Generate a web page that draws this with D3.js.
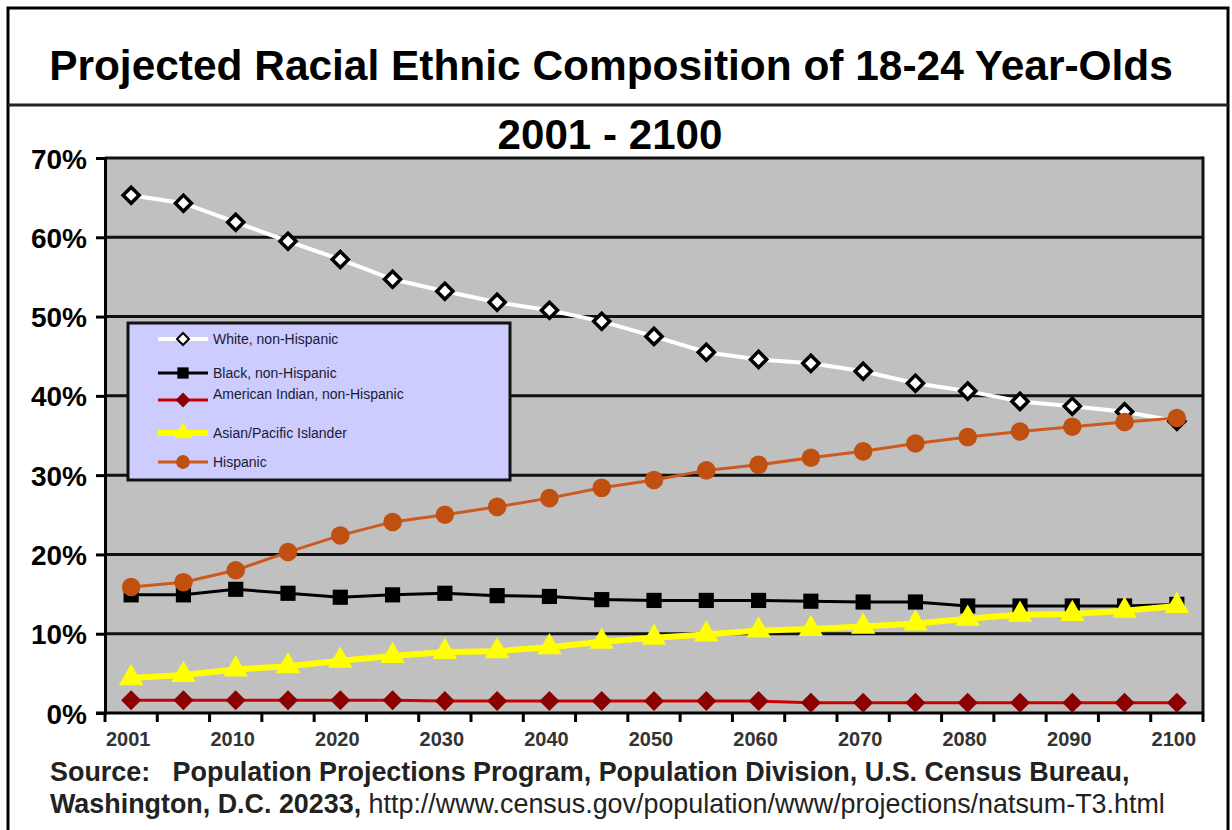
<!DOCTYPE html>
<html>
<head>
<meta charset="utf-8">
<script src="https://cdn.jsdelivr.net/npm/d3@7"></script>
<style>
  body { margin: 0; background: #fff; }
  svg { display: block; font-family: Arial, "Liberation Sans", sans-serif; }
</style>
</head>
<body>
<svg id="chart" width="1232" height="830"></svg>
<script>
// Data
const years = ['2001','2005','2010','2015','2020','2025','2030','2035','2040','2045','2050',
               '2055','2060','2065','2070','2075','2080','2085','2090','2095','2100'];
const xTickLabels = ['2001','2010','2020','2030','2040','2050','2060','2070','2080','2090','2100'];
const yTicks = [0, 10, 20, 30, 40, 50, 60, 70];

const white    = [65.3, 64.3, 61.9, 59.5, 57.2, 54.7, 53.2, 51.8, 50.8, 49.4, 47.5,
                  45.5, 44.6, 44.1, 43.1, 41.6, 40.6, 39.3, 38.7, 38.0, 36.8];
const black    = [14.9, 14.9, 15.6, 15.1, 14.6, 14.9, 15.1, 14.8, 14.7, 14.3, 14.2,
                  14.2, 14.2, 14.1, 14.0, 14.0, 13.5, 13.5, 13.5, 13.5, 13.7];
const amIndian = [1.6, 1.6, 1.6, 1.6, 1.6, 1.6, 1.5, 1.5, 1.5, 1.5, 1.5,
                  1.5, 1.5, 1.3, 1.3, 1.3, 1.3, 1.3, 1.3, 1.3, 1.3];
const asian    = [4.4, 4.8, 5.5, 5.9, 6.6, 7.2, 7.7, 7.8, 8.3, 9.0, 9.5,
                  9.9, 10.4, 10.6, 10.9, 11.3, 11.9, 12.4, 12.5, 12.9, 13.5];
const hispanic = [15.9, 16.5, 18.0, 20.3, 22.4, 24.1, 25.0, 26.0, 27.1, 28.4, 29.4,
                  30.6, 31.3, 32.2, 33.0, 34.0, 34.8, 35.5, 36.1, 36.7, 37.2];

const seriesNames = ['White, non-Hispanic', 'Black, non-Hispanic', 'American Indian, non-Hispanic',
                     'Asian/Pacific Islander', 'Hispanic'];

const svg = d3.select('#chart');

// outer frame and title box
svg.append('rect').attr('x', 8).attr('y', 8).attr('width', 1220).attr('height', 840)
  .attr('fill', '#fff').attr('stroke', '#000').attr('stroke-width', 3);
svg.append('line').attr('x1', 8).attr('x2', 1228).attr('y1', 105).attr('y2', 105)
  .attr('stroke', '#222').attr('stroke-width', 3);

// fit a text element to a given width
function fitWidth(sel, target) {
  const w = sel.node().getComputedTextLength();
  const fs = parseFloat(sel.attr('font-size'));
  sel.attr('font-size', fs * target / w);
}

const title = svg.append('text').attr('x', 611).attr('y', 80).attr('text-anchor', 'middle')
  .attr('font-size', 38).attr('font-weight', 'bold').attr('fill', '#000')
  .text('Projected Racial Ethnic Composition of 18-24 Year-Olds');
fitWidth(title, 1124);

const subtitle = svg.append('text').attr('x', 610).attr('y', 149).attr('text-anchor', 'middle')
  .attr('font-size', 36).attr('font-weight', 'bold').attr('fill', '#000')
  .text('2001 - 2100');
fitWidth(subtitle, 225);

// plot area
const plotLeft = 105, plotRight = 1203, plotTop = 158, plotBottom = 713;

const x = d3.scaleBand().domain(years).range([plotLeft, plotRight]);
const y = d3.scaleLinear().domain([0, 70]).range([plotBottom, plotTop]);
const cx = d => x(d) + x.bandwidth() / 2;

svg.append('rect').attr('x', plotLeft).attr('y', plotTop)
  .attr('width', plotRight - plotLeft).attr('height', plotBottom - plotTop)
  .attr('fill', '#c0c0c0');

// gridlines
svg.append('g').selectAll('line').data(yTicks.filter(t => t > 0)).join('line')
  .attr('x1', plotLeft).attr('x2', plotRight).attr('y1', d => y(d)).attr('y2', d => y(d))
  .attr('stroke', '#111').attr('stroke-width', 3);

// right border
svg.append('line').attr('x1', plotRight).attr('x2', plotRight).attr('y1', plotTop - 1.5).attr('y2', plotBottom)
  .attr('stroke', '#111').attr('stroke-width', 3);

// y axis
const yAxis = svg.append('g').attr('transform', `translate(${plotLeft},0)`)
  .call(d3.axisLeft(y).tickValues(yTicks).tickFormat(d => d + '%').tickSize(9).tickPadding(9));
yAxis.select('.domain').attr('stroke', '#000').attr('stroke-width', 3);
yAxis.selectAll('.tick line').attr('stroke', '#000').attr('stroke-width', 3);
yAxis.selectAll('.tick text').attr('font-size', 28).attr('font-weight', 'bold').attr('fill', '#000')
  .attr('font-family', 'Arial, "Liberation Sans", sans-serif').attr('dy', '0.36em');

// x axis: line, ticks at category boundaries, labels every other category
svg.append('line').attr('x1', plotLeft - 9).attr('x2', plotRight).attr('y1', plotBottom).attr('y2', plotBottom)
  .attr('stroke', '#000').attr('stroke-width', 3);
const bounds = d3.range(years.length + 1).map(i => plotLeft + i * x.bandwidth());
svg.append('g').selectAll('line').data(bounds).join('line')
  .attr('x1', d => d).attr('x2', d => d).attr('y1', plotBottom).attr('y2', plotBottom + 9)
  .attr('stroke', '#000').attr('stroke-width', 3);

const xAxis = svg.append('g').attr('transform', `translate(0,${plotBottom})`)
  .call(d3.axisBottom(x).tickValues(xTickLabels).tickSize(0).tickPadding(19));
xAxis.select('.domain').remove();
xAxis.selectAll('.tick text').attr('font-size', 20).attr('font-weight', 'bold').attr('fill', '#333')
  .attr('font-family', 'Arial, "Liberation Sans", sans-serif').attr('dx', -3);

// series
const series = [
  { name: seriesNames[0], values: white,    line: '#ffffff', lw: 4, symbol: d3.symbolSquare, size: 130, rot: 45, fill: '#ffffff', stroke: '#000', sw: 3.5 },
  { name: seriesNames[1], values: black,    line: '#000000', lw: 3, symbol: d3.symbolSquare, size: 230, rot: 0,  fill: '#000000', stroke: 'none', sw: 0 },
  { name: seriesNames[2], values: amIndian, line: '#cc0000', lw: 3, symbol: d3.symbolSquare, size: 200, rot: 45, fill: '#8b0000', stroke: 'none', sw: 0 },
  { name: seriesNames[3], values: asian,    line: '#ffff00', lw: 6, symbol: d3.symbolTriangle, size: 260, rot: 0, fill: '#ffff00', stroke: 'none', sw: 0 },
  { name: seriesNames[4], values: hispanic, line: '#cc5a1e', lw: 3, symbol: d3.symbolCircle, size: 270, rot: 0, fill: '#c0500f', stroke: 'none', sw: 0 }
];

const line = d3.line().x((d, i) => cx(years[i])).y(d => y(d));

series.forEach(s => {
  const g = svg.append('g');
  g.append('path').datum(s.values).attr('d', line)
    .attr('fill', 'none').attr('stroke', s.line).attr('stroke-width', s.lw);
  g.selectAll('path.m').data(s.values).join('path').attr('class', 'm')
    .attr('d', d3.symbol().type(s.symbol).size(s.size))
    .attr('transform', (d, i) => `translate(${cx(years[i])},${y(d)}) rotate(${s.rot})`)
    .attr('fill', s.fill).attr('stroke', s.stroke).attr('stroke-width', s.sw);
});

// legend
const legend = svg.append('g');
legend.append('rect').attr('x', 128).attr('y', 323).attr('width', 382).attr('height', 157)
  .attr('fill', '#ccccff').attr('stroke', '#111').attr('stroke-width', 3);
const legendY = [339, 373, 400, 433, 462];
series.forEach((s, i) => {
  const ly = legendY[i];
  legend.append('line').attr('x1', 158).attr('x2', 208).attr('y1', ly).attr('y2', ly)
    .attr('stroke', s.line).attr('stroke-width', s.lw);
  legend.append('path').attr('d', d3.symbol().type(s.symbol).size(s.size * 0.55))
    .attr('transform', `translate(183,${ly}) rotate(${s.rot})`)
    .attr('fill', s.fill).attr('stroke', s.stroke).attr('stroke-width', s.sw ? 2 : 0);
  legend.append('text').attr('x', 213).attr('y', ly - (i === 2 ? 6 : 0)).attr('dy', '0.35em')
    .attr('font-size', 14).attr('fill', '#1a1a33').text(s.name);
});

// source note
const src1 = svg.append('text').attr('x', 50).attr('y', 781).attr('font-size', 20)
  .attr('font-weight', 'bold').attr('fill', '#222')
  .attr('xml:space', 'preserve')
  .text('Source:   Population Projections Program, Population Division, U.S. Census Bureau,');
fitWidth(src1, 1080);

const src2 = svg.append('text').attr('x', 50).attr('y', 813).attr('font-size', 20).attr('fill', '#222');
src2.append('tspan').attr('font-weight', 'bold').text('Washington, D.C. 20233, ');
src2.append('tspan').attr('font-weight', 'normal').text('http://www.census.gov/population/www/projections/natsum-T3.html');
fitWidth(src2, 1115);
</script>
</body>
</html>
